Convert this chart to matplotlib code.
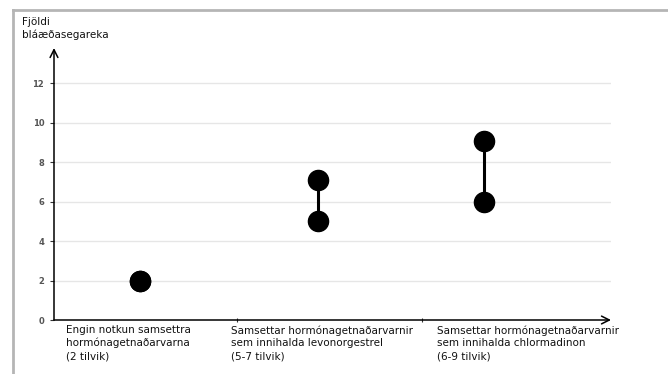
import matplotlib
matplotlib.use('Agg')
import matplotlib.pyplot as plt
from matplotlib.lines import Line2D

# categories and ranges of cases (min, max)
categories = ['Engin notkun samsettra\nhormónagetnaðarvarna\n(2 tilvik)',
              'Samsettar hormónagetnaðarvarnir\nsem innihalda levonorgestrel\n(5-7 tilvik)',
              'Samsettar hormónagetnaðarvarnir\nsem innihalda chlormadinon\n(6-9 tilvik)']
cat_pos = [0, 1.035, 2]
low_values = [2, 5, 6]
high_values = [2, 7.1, 9.1]
yticks = [0, 2, 4, 6, 8, 10, 12]
ylabel = 'Fjöldi\nbláæðasegareka'

fig = plt.figure(figsize=(6.68, 3.74), dpi=100)
ax = fig.add_axes([54/668, 1 - 320/374, (611 - 54)/668, (320 - 48)/374])

# gridlines
for t in yticks[1:]:
    ax.axhline(t, color='#e6e6e6', lw=1, zorder=0)

# range lines and dots
for x, lo, hi in zip(cat_pos, low_values, high_values):
    if hi != lo:
        ax.plot([x, x], [lo, hi], color='black', lw=2.2, zorder=2)
    ax.plot([x, x], [lo, hi], 'o', color='black', ms=14.5, zorder=3)

ax.set_xlim(-0.5, 2.74)
ax.set_ylim(0, 13.8)

for s in ax.spines.values():
    s.set_visible(False)

# axes with arrows
ax.annotate('', xy=(0, 1), xytext=(0, 0), xycoords='axes fraction',
            arrowprops=dict(arrowstyle='->', color='black', lw=1.1,
                            mutation_scale=14, shrinkA=0, shrinkB=0))
ax.annotate('', xy=(1, 0), xytext=(0, 0), xycoords='axes fraction',
            arrowprops=dict(arrowstyle='->', color='black', lw=1.1,
                            mutation_scale=14, shrinkA=0, shrinkB=0))

ax.set_yticks(yticks)
ax.set_yticklabels([str(t) for t in yticks], fontsize=6, color='#555555',
                   fontweight='bold')
ax.tick_params(axis='y', length=3, width=0.8, pad=4, color='#333333')
ax.set_xticks([0.564, 1.64])
ax.set_xticklabels([])
ax.tick_params(axis='x', length=3, width=0.8, direction='inout', color='#333333')

# category labels
label_x = [66, 231, 437]
for lx, txt in zip(label_x, categories):
    fig.text(lx/668, 1 - 325/374, txt, ha='left', va='top', fontsize=7.5,
             linespacing=1.35, color='#111111')

fig.text(22/668, 1 - 17/374, ylabel, ha='left', va='top', fontsize=7.5,
         linespacing=1.3, color='#111111')

# grey frame
fig.add_artist(Line2D([13/668, 13/668], [0, 1 - 10/374], color='#b5b5b5', lw=2,
                      transform=fig.transFigure))
fig.add_artist(Line2D([13/668, 1], [1 - 10/374, 1 - 10/374], color='#b5b5b5', lw=2,
                      transform=fig.transFigure))

fig.savefig('out.png', dpi=100)
